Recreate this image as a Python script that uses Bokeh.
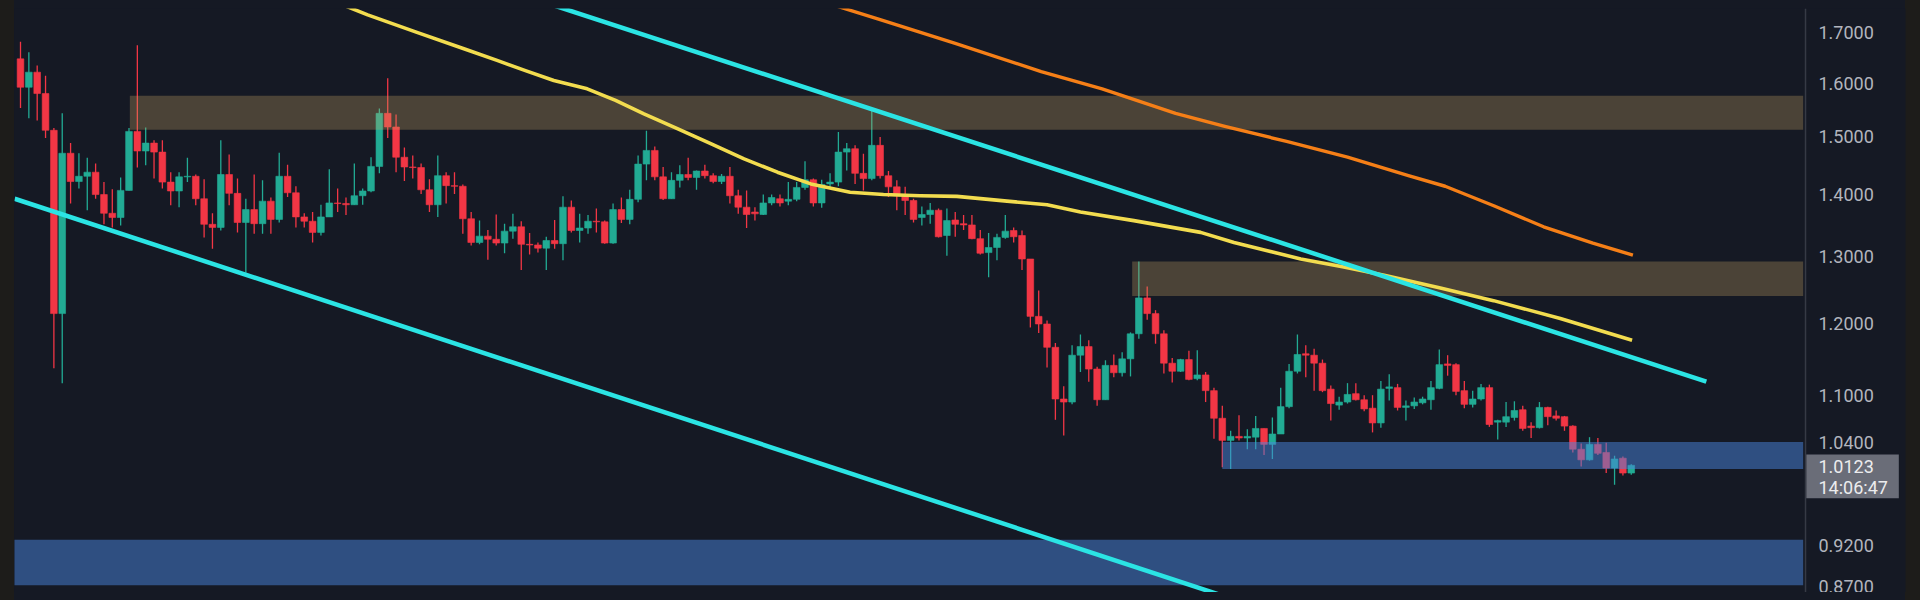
from bokeh.plotting import figure
from bokeh.models import (Range1d, FixedTicker, PrintfTickFormatter, Label, BoxAnnotation,
                          Span, ColumnDataSource, GlobalInlineStyleSheet)
from bokeh.embed import file_html
from bokeh.resources import INLINE

# ---------------- data ----------------
opens = [1.647, 1.592, 1.621, 1.580, 1.512, 1.214, 1.471, 1.422, 1.431, 1.438,
         1.400, 1.369, 1.362, 1.407, 1.510, 1.475, 1.489, 1.473, 1.421, 1.406,
         1.430, 1.431, 1.393, 1.351, 1.346, 1.434, 1.402, 1.354, 1.375, 1.352,
         1.389, 1.359, 1.431, 1.403, 1.363, 1.356, 1.338, 1.363, 1.386, 1.385,
         1.383, 1.398, 1.406, 1.448, 1.543, 1.518, 1.464, 1.447, 1.446, 1.408,
         1.383, 1.432, 1.415, 1.414, 1.360, 1.322, 1.332, 1.327, 1.321, 1.340,
         1.347, 1.319, 1.318, 1.313, 1.325, 1.320, 1.379, 1.341, 1.345, 1.356,
         1.355, 1.321, 1.375, 1.359, 1.392, 1.452, 1.476, 1.430, 1.393, 1.424,
         1.434, 1.429, 1.440, 1.432, 1.422, 1.431, 1.398, 1.379, 1.371, 1.367,
         1.386, 1.393, 1.389, 1.392, 1.412, 1.425, 1.386, 1.418, 1.421, 1.473,
         1.479, 1.436, 1.427, 1.485, 1.432, 1.413, 1.398, 1.390, 1.362, 1.367,
         1.374, 1.333, 1.358, 1.352, 1.350, 1.328, 1.306, 1.314, 1.330, 1.341,
         1.333, 1.296, 1.210, 1.199, 1.166, 1.096, 1.092, 1.155, 1.167, 1.136,
         1.095, 1.141, 1.131, 1.150, 1.185, 1.237, 1.214, 1.185, 1.144, 1.133,
         1.149, 1.123, 1.128, 1.107, 1.071, 1.043, 1.048, 1.046, 1.047, 1.058,
         1.038, 1.051, 1.086, 1.133, 1.157, 1.155, 1.144, 1.109, 1.088, 1.092,
         1.103, 1.095, 1.084, 1.065, 1.110, 1.111, 1.085, 1.087, 1.091, 1.095,
         1.110, 1.143, 1.142, 1.107, 1.089, 1.096, 1.111, 1.066, 1.066, 1.072,
         1.082, 1.061, 1.059, 1.085, 1.074, 1.073, 1.061, 1.032, 1.019, 1.038,
         1.028, 1.009, 1.021, 1.003]
highs = [1.681, 1.660, 1.634, 1.614, 1.516, 1.543, 1.489, 1.471, 1.463, 1.453,
         1.421, 1.409, 1.429, 1.516, 1.674, 1.517, 1.494, 1.494, 1.438, 1.438,
         1.463, 1.434, 1.426, 1.369, 1.494, 1.469, 1.427, 1.393, 1.434, 1.424,
         1.395, 1.472, 1.451, 1.414, 1.369, 1.371, 1.383, 1.443, 1.410, 1.395,
         1.453, 1.410, 1.464, 1.552, 1.609, 1.541, 1.481, 1.467, 1.453, 1.426,
         1.467, 1.438, 1.438, 1.417, 1.371, 1.357, 1.342, 1.367, 1.352, 1.368,
         1.356, 1.337, 1.322, 1.331, 1.358, 1.397, 1.390, 1.368, 1.366, 1.377,
         1.357, 1.385, 1.395, 1.408, 1.467, 1.511, 1.483, 1.447, 1.438, 1.450,
         1.463, 1.441, 1.451, 1.436, 1.435, 1.447, 1.408, 1.407, 1.379, 1.400,
         1.400, 1.400, 1.421, 1.421, 1.457, 1.427, 1.425, 1.436, 1.509, 1.489,
         1.485, 1.470, 1.548, 1.500, 1.440, 1.424, 1.413, 1.393, 1.380, 1.386,
         1.377, 1.377, 1.371, 1.366, 1.366, 1.342, 1.337, 1.336, 1.366, 1.346,
         1.341, 1.296, 1.248, 1.204, 1.172, 1.113, 1.169, 1.184, 1.176, 1.139,
         1.148, 1.156, 1.159, 1.187, 1.292, 1.254, 1.219, 1.190, 1.151, 1.150,
         1.161, 1.162, 1.132, 1.111, 1.087, 1.055, 1.075, 1.057, 1.074, 1.058,
         1.072, 1.111, 1.143, 1.184, 1.169, 1.164, 1.149, 1.114, 1.099, 1.117,
         1.117, 1.101, 1.101, 1.120, 1.129, 1.116, 1.094, 1.098, 1.099, 1.120,
         1.163, 1.155, 1.144, 1.120, 1.107, 1.116, 1.115, 1.069, 1.092, 1.093,
         1.087, 1.066, 1.092, 1.086, 1.081, 1.074, 1.062, 1.039, 1.047, 1.046,
         1.040, 1.024, 1.023, 1.0135]
lows = [1.553, 1.534, 1.530, 1.498, 1.137, 1.117, 1.385, 1.410, 1.374, 1.393,
        1.351, 1.346, 1.349, 1.407, 1.446, 1.450, 1.427, 1.410, 1.382, 1.379,
        1.421, 1.382, 1.330, 1.312, 1.341, 1.382, 1.338, 1.275, 1.336, 1.336,
        1.336, 1.354, 1.396, 1.346, 1.346, 1.322, 1.333, 1.363, 1.371, 1.366,
        1.383, 1.383, 1.404, 1.436, 1.498, 1.438, 1.423, 1.427, 1.401, 1.371,
        1.363, 1.385, 1.401, 1.336, 1.317, 1.319, 1.295, 1.317, 1.305, 1.328,
        1.279, 1.303, 1.306, 1.279, 1.312, 1.294, 1.338, 1.322, 1.336, 1.338,
        1.320, 1.320, 1.353, 1.351, 1.387, 1.424, 1.424, 1.391, 1.393, 1.412,
        1.424, 1.408, 1.427, 1.419, 1.418, 1.385, 1.368, 1.345, 1.357, 1.366,
        1.382, 1.380, 1.382, 1.389, 1.408, 1.380, 1.378, 1.412, 1.414, 1.441,
        1.418, 1.407, 1.424, 1.427, 1.396, 1.374, 1.366, 1.354, 1.349, 1.352,
        1.330, 1.301, 1.331, 1.342, 1.327, 1.303, 1.268, 1.294, 1.328, 1.322,
        1.279, 1.194, 1.186, 1.138, 1.069, 1.049, 1.089, 1.132, 1.119, 1.087,
        1.095, 1.125, 1.126, 1.126, 1.178, 1.205, 1.171, 1.130, 1.118, 1.132,
        1.121, 1.121, 1.092, 1.045, 1.010, 1.008, 1.043, 1.032, 1.032, 1.025,
        1.020, 1.051, 1.084, 1.130, 1.125, 1.107, 1.105, 1.068, 1.082, 1.090,
        1.094, 1.080, 1.053, 1.059, 1.094, 1.081, 1.068, 1.083, 1.089, 1.082,
        1.109, 1.127, 1.101, 1.084, 1.085, 1.094, 1.060, 1.044, 1.060, 1.068,
        1.055, 1.046, 1.058, 1.062, 1.068, 1.055, 1.028, 1.011, 1.018, 1.025,
        1.003, 0.989, 1.000, 1.001]
closes = [1.592, 1.621, 1.580, 1.512, 1.214, 1.471, 1.422, 1.431, 1.438, 1.400,
          1.369, 1.362, 1.407, 1.510, 1.475, 1.489, 1.473, 1.421, 1.406, 1.430,
          1.431, 1.393, 1.351, 1.346, 1.434, 1.402, 1.354, 1.375, 1.352, 1.389,
          1.359, 1.431, 1.403, 1.363, 1.356, 1.338, 1.363, 1.386, 1.385, 1.383,
          1.398, 1.406, 1.448, 1.543, 1.518, 1.464, 1.447, 1.446, 1.408, 1.383,
          1.432, 1.415, 1.414, 1.360, 1.322, 1.332, 1.327, 1.321, 1.340, 1.347,
          1.319, 1.318, 1.313, 1.325, 1.320, 1.379, 1.341, 1.345, 1.356, 1.355,
          1.321, 1.375, 1.359, 1.392, 1.452, 1.476, 1.430, 1.393, 1.424, 1.434,
          1.429, 1.440, 1.432, 1.422, 1.431, 1.398, 1.379, 1.367, 1.368, 1.386,
          1.395, 1.386, 1.392, 1.412, 1.425, 1.386, 1.417, 1.421, 1.473, 1.479,
          1.436, 1.427, 1.485, 1.432, 1.413, 1.398, 1.390, 1.359, 1.367, 1.374,
          1.331, 1.357, 1.351, 1.350, 1.328, 1.305, 1.314, 1.330, 1.340, 1.331,
          1.296, 1.210, 1.199, 1.166, 1.096, 1.092, 1.155, 1.167, 1.136, 1.095,
          1.141, 1.131, 1.150, 1.185, 1.237, 1.214, 1.185, 1.144, 1.133, 1.149,
          1.122, 1.128, 1.107, 1.071, 1.043, 1.048, 1.046, 1.048, 1.058, 1.038,
          1.051, 1.086, 1.133, 1.156, 1.155, 1.144, 1.107, 1.090, 1.092, 1.102,
          1.095, 1.083, 1.065, 1.109, 1.112, 1.085, 1.087, 1.092, 1.096, 1.111,
          1.142, 1.141, 1.106, 1.089, 1.096, 1.111, 1.063, 1.068, 1.073, 1.081,
          1.058, 1.059, 1.085, 1.073, 1.071, 1.061, 1.032, 1.019, 1.038, 1.027,
          1.009, 1.020, 1.003, 1.0123]

# moving averages (candle index, price)
ma_fast_x = [36.5, 41.6, 47.5, 53.3, 57.1, 60.5, 63.9, 67.9, 71.3, 74.7, 78.7, 82.7,
             86.7, 90.7, 94.7, 99.4, 103.4, 107.8, 112.2, 118.2, 123.0, 127.0, 133.4,
             141.4, 145.4, 149.4, 153.4, 158.4, 163.4, 170.0, 176.5, 184.5, 193.1]
ma_fast_y = [1.772, 1.736, 1.700, 1.666, 1.644, 1.624, 1.605, 1.589, 1.567, 1.542,
             1.515, 1.488, 1.461, 1.438, 1.418, 1.404, 1.400, 1.398, 1.397, 1.389,
             1.383, 1.371, 1.357, 1.338, 1.322, 1.309, 1.296, 1.284, 1.271, 1.252,
             1.233, 1.207, 1.176]
ma_slow_x = [94.1, 103.0, 112.0, 122.3, 129.6, 138.4, 144.3, 151.7, 159.0, 166.3,
             170.7, 176.6, 182.5, 188.4, 193.2]
ma_slow_y = [1.775, 1.726, 1.678, 1.622, 1.589, 1.543, 1.519, 1.492, 1.464, 1.432,
             1.414, 1.381, 1.347, 1.321, 1.302]

# channel trend lines (candle index, price)
upper_line_x = [58.0, 202.0]
upper_line_y = [1.790, 1.119]
lower_line_x = [-0.7, 145.8]
lower_line_y = [1.393, 0.861]

# zones: left index, bottom, top
resist_left = [13.1, 133.2]
resist_bottom = [1.513, 1.240]
resist_top = [1.576, 1.292]
support_left = [144.0, -1.0]
support_bottom = [1.008, 0.877]
support_top = [1.041, 0.926]
zone_right = 213.6

price_ticks = [0.87, 0.92, 1.04, 1.10, 1.20, 1.30, 1.40, 1.50, 1.60, 1.70]
last_price = "1.0123"
countdown = "14:06:47"

# ---------------- styling ----------------
BG = "#151924"
STRIP = "#1d1c1a"
UP = "#22ab94"
DOWN = "#f23645"

n = len(closes)
idx = list(range(n))
colors = [UP if c >= o else DOWN for o, c in zip(opens, closes)]
tops = [max(o, c) for o, c in zip(opens, closes)]
bots = [min(o, c) for o, c in zip(opens, closes)]
src = ColumnDataSource(dict(x=idx, o=opens, h=highs, l=lows, c=closes,
                            top=tops, bot=bots, color=colors))

X_SEP = 213.88      # where the price scale starts
X_END = 225.86      # right edge of the price-scale panel
p = figure(frame_width=1891, frame_height=584,
           x_range=Range1d(-0.719, X_END), y_range=Range1d(0.8693, 1.7494),
           y_axis_type="log", y_axis_location="right", x_axis_location=None,
           toolbar_location=None, output_backend="svg",
           min_border_left=6, min_border_right=7, min_border_top=0, min_border_bottom=0,
           background_fill_color=BG, border_fill_color=None, outline_line_color=None)
p.grid.visible = False

css = ("html,body{margin:0;padding:0;}"
       "body{margin:8px;background:linear-gradient(90deg, %s 0px, %s 14px, %s 14px, %s 1905px, %s 1905px, %s 1920px);}"
       % (STRIP, STRIP, BG, BG, STRIP, STRIP))
p.stylesheets.append(GlobalInlineStyleSheet(css=css))

# candles
p.segment(x0="x", y0="l", x1="x", y1="h", source=src, line_color="color", line_width=1.3)
p.vbar(x="x", width=0.8, top="top", bottom="bot", source=src,
       fill_color="color", line_color="color", line_width=0.6)

# zones (translucent overlays)
p.quad(left=resist_left, right=[zone_right] * len(resist_left), bottom=resist_bottom,
       top=resist_top, fill_color="#c9a563", fill_alpha=0.3, line_color=None)
p.quad(left=support_left, right=[zone_right] * len(support_left), bottom=support_bottom,
       top=support_top, fill_color="#4a86dd", fill_alpha=0.5, line_color=None)

# moving averages and channel
p.line(ma_fast_x, ma_fast_y, line_color="#f2dc4f", line_width=3.6, line_join="round")
p.line(ma_slow_x, ma_slow_y, line_color="#f57f17", line_width=3.4, line_join="round")
p.line(upper_line_x, upper_line_y, line_color="#2be4e4", line_width=4.5)
p.line(lower_line_x, lower_line_y, line_color="#2be4e4", line_width=4.5)

# price-scale panel: separator, then the axis labels drawn inside it
p.add_layout(Span(location=X_SEP, dimension="height", line_color="#363a45", line_width=1.5))

ax = p.yaxis[0]
ax.ticker = FixedTicker(ticks=price_ticks, minor_ticks=[])
ax.formatter = PrintfTickFormatter(format="%.4f")
ax.major_label_text_font = "Roboto"
ax.major_label_text_font_size = "18px"
ax.major_label_text_color = "#b2b5be"
ax.major_label_text_align = "left"
ax.major_label_standoff = -87
ax.major_tick_out = 0
ax.major_tick_in = 0
ax.minor_tick_line_color = None
ax.axis_line_color = None

# last-price tag on the price scale
tag = BoxAnnotation(left=X_SEP + 0.1, right=225.06, top=1.0255, bottom=0.9732,
                    fill_color="#6a6d78", fill_alpha=1.0, line_color=None)
p.add_layout(tag)
p.add_layout(Label(x=215.43, y=1.0108, text=last_price, text_align="left",
                   text_baseline="middle", text_font="Roboto", text_font_size="18px",
                   text_color="#ececee"))
p.add_layout(Label(x=215.43, y=0.9863, text=countdown, text_align="left",
                   text_baseline="middle", text_font="Roboto", text_font_size="18px",
                   text_color="#ececee"))

open("out.html", "w").write(file_html(p, INLINE))
